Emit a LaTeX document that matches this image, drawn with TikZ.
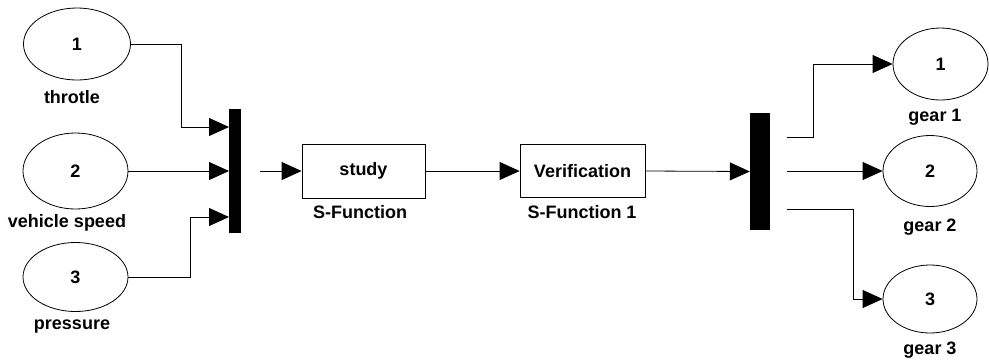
\documentclass[tikz,border=0pt]{standalone}
\usepackage{fontspec}
\setmainfont{Liberation Sans}
\usepackage{tikz}
\usetikzlibrary{arrows.meta,shapes.geometric}

\begin{document}
\begin{tikzpicture}[x=1pt,y=1pt,yscale=-1,xscale=1,
    every node/.style={font=\bfseries\fontsize{18}{20}\selectfont,inner sep=0.75pt},
    port/.style={draw,ellipse,line width=0.8pt,inner sep=0pt},
    block/.style={draw,rectangle,line width=0.8pt,inner sep=0pt},
    bar/.style={fill=black,rectangle,inner sep=0pt},
    wire/.style={line width=0.8pt,-{Triangle[length=20pt,width=18pt]}}]
    \useasboundingbox (0,0) rectangle (989,360);

    %Shape: Ellipse [inputs]
    \node[port,minimum width=107,minimum height=72] (in1) at (77,44) {1};
    \node[port,minimum width=105,minimum height=76] (in2) at (75.5,171) {2};
    \node[port,minimum width=105,minimum height=69] (in3) at (75.5,277) {3};
    % Text Node
    \node (lin1) at (72,97) {throtle};
    % Text Node
    \node (lin2) at (67,223) {vehicle speed};
    % Text Node
    \node (lin3) at (72,327) {pressure};

    %Shape: Rectangle [mux]
    \node[bar,minimum width=12,minimum height=124] (mux1) at (235,171) {};
    \coordinate (p1) at (229,127);
    \coordinate (p2) at (229,171);
    \coordinate (p3) at (229,217);

    %Shape: Rectangle [blocks]
    \node[block,minimum width=123,minimum height=54] (study) at (363.5,171) {study};
    \node[block,minimum width=125,minimum height=53] (verif) at (582.5,171) {Verification};
    % Text Node
    \node (lstudy) at (360,212) {S-Function};
    % Text Node
    \node (lverif) at (582,212) {S-Function 1};

    %Shape: Rectangle [demux]
    \node[bar,minimum width=20,minimum height=117] (mux2) at (760,171.5) {};
    \coordinate (q1) at (787,137);
    \coordinate (q2) at (787,171);
    \coordinate (q3) at (787,209);

    %Shape: Ellipse [outputs]
    \node[port,minimum width=95,minimum height=72] (out1) at (940.5,64) {1};
    \node[port,minimum width=94,minimum height=71] (out2) at (930,171) {2};
    \node[port,minimum width=94,minimum height=68] (out3) at (930,299) {3};
    % Text Node
    \node (lout1) at (935,117) {gear 1};
    % Text Node
    \node (lout2) at (930,227) {gear 2};
    % Text Node
    \node (lout3) at (930,350) {gear 3};

    %Straight Lines
    \draw[wire] (in1.east) -- ++(50,0) |- (p1);
    \draw[wire] (in2.east) -- (p2);
    \draw[wire] (in3.east) -- ++(62,0) |- (p3);
    \draw[wire] ([xshift=19pt]mux1.east) -- (study.west);
    \draw[wire] (study.east) -- (verif.west);
    \draw[wire] (verif.east) -- (mux2.west);
    \draw[wire] (q1) -- ++(26,0) |- (out1.west);
    \draw[wire] (q2) -- (out2.west);
    \draw[wire] (q3) -- ++(66,0) |- (out3.west);

\end{tikzpicture}
\end{document}
